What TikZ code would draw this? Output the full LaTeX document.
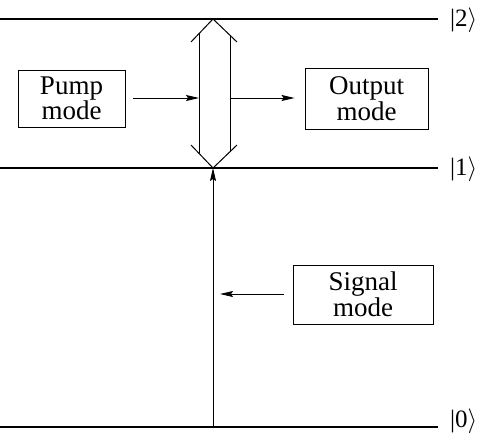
\documentclass[tikz,border=0pt]{standalone}
\usepackage{fontspec}
\setmainfont{Liberation Serif}
\usetikzlibrary{arrows.meta}
\tikzset{
  modebox/.style={draw, line width=0.9pt, inner sep=0pt, align=center, font=\fontsize{27}{23}\selectfont},
  level/.style={line width=1.8pt},
  lvllabel/.style={inner sep=0pt, anchor=west, font=\fontsize{25}{25}\selectfont},
  thin/.style={line width=1pt},
  tip/.style={-{Stealth[length=13pt,width=6pt,inset=2pt]}}
}
\begin{document}
\begin{tikzpicture}[x=1pt,y=-1pt]
\useasboundingbox (0,0) rectangle (478,433);
% level labels
\node[lvllabel] (l2) at (450,20) {|2$\rangle$};
\node[lvllabel] (l1) at (450,169) {|1$\rangle$};
\node[lvllabel] (l0) at (450,421) {|0$\rangle$};
\coordinate (s2) at (0,19);
\coordinate (s1) at (0,168);
\coordinate (s0) at (0,427);
\draw[level] (s2) -- (s2 -| 438,0);
\draw[level] (s1) -- (s1 -| 438,0);
\draw[level] (s0) -- (s0 -| 438,0);
% boxes
\node[modebox, minimum width=107pt, minimum height=57pt] (pump) at (71.5,98.5) {Pump\\mode};
\node[modebox, minimum width=123pt, minimum height=61pt] (out) at (366.5,98.5) {Output\\mode};
\node[modebox, minimum width=140pt, minimum height=59pt] (sig) at (363,294.5) {Signal\\mode};
% hollow double arrow
\coordinate (tt) at (213,19);
\coordinate (tl) at (191,42);
\coordinate (tr) at (237,42);
\coordinate (bt) at (213,168);
\coordinate (bl) at (191,145);
\coordinate (br) at (237,145);
\coordinate (lu) at (199,33.6);
\coordinate (ld) at (199,153.4);
\coordinate (ru) at (230,35.3);
\coordinate (rd) at (230,151.7);
\draw[thin] (tl) -- (tt) -- (tr);
\draw[thin] (bl) -- (bt) -- (br);
\draw[thin] (lu) -- (ld);
\draw[thin] (ru) -- (rd);
% arrows
\coordinate (pa) at (199,98);
\coordinate (oa) at (230,98);
\draw[thin, tip, shorten <=8pt] (pump.east |- pa) -- (pa);
\draw[thin, tip, shorten >=10pt] (oa) -- (out.west |- oa);
\coordinate (g) at (213,427);
\coordinate (sa) at (213,294);
\draw[thin, tip] (g) -- (bt);
\draw[thin, tip, shorten <=9pt, shorten >=7pt] (sig.west |- sa) -- (sa);
\end{tikzpicture}
\end{document}
